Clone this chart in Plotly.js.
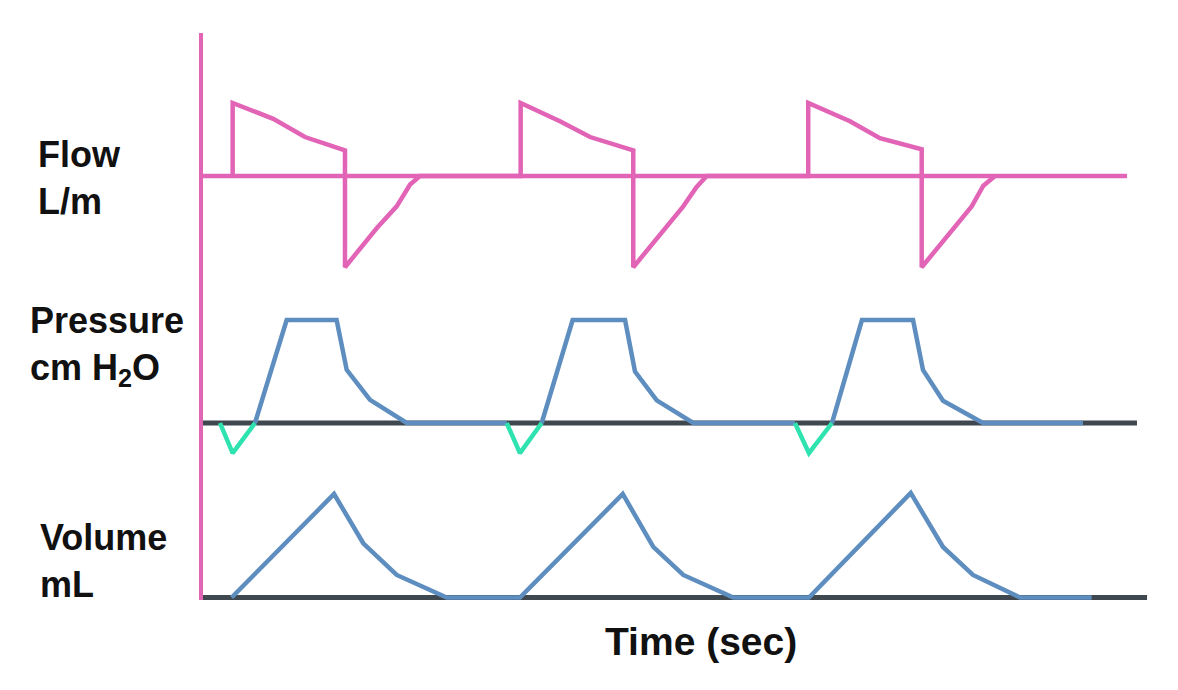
<!DOCTYPE html>
<html>
<head>
<meta charset="utf-8">
<script src="https://cdn.plot.ly/plotly-3.0.1.min.js"></script>
<style>html,body{margin:0;padding:0;background:#fff;}#chart{width:1178px;height:690px;}</style>
</head>
<body>
<div id="chart"></div>
<script>
// Time axis (sec)
const timeRange = [0, 6.632];

// Baselines (start/end times)
const flowBaselineTime = [0, 6.417];
const flowBaselineValue = [0, 0];
const pressureBaselineTime = [0, 6.486];
const pressureBaselineValue = [0, 0];
const volumeBaselineTime = [0, 6.556];
const volumeBaselineValue = [0, 0];

// Flow (L/m)
const flowTime = [0.206, 0.206, 0.488, 0.708, 0.986, 0.986, 1.206, 1.345, 1.438, 1.507,
                  2.206, 2.206, 2.479, 2.688, 2.988, 2.988, 3.335, 3.428, 3.498,
                  4.203, 4.203, 4.493, 4.701, 4.991, 4.991, 5.338, 5.419, 5.500];
const flowValue = [0, 60, 47, 32, 21, -75, -43, -25, -7, 0,
                   0, 60, 45, 32, 21, -75, -25, -9, 0,
                   0, 60, 45, 31, 22, -75, -25, -8, 0];

// Pressure (cm H2O)
const pressureTime = [0.361, 0.581, 0.928, 0.998, 1.160, 1.415, 2.109, null,
                      2.352, 2.567, 2.931, 3.000, 3.151, 3.405, 4.111, null,
                      4.368, 4.576, 4.931, 5.000, 5.139, 5.417, 6.111];
const pressureValue = [0, 25, 25, 12.9, 5.6, 0, 0, null,
                       0, 25, 25, 12.5, 5.5, 0, 0, null,
                       0, 25, 25, 12.9, 5.4, 0, 0];

// Patient trigger effort (cm H2O)
const triggerTime = [0.118, 0.206, 0.361, null, 2.109, 2.201, 2.352, null, 4.111, 4.208, 4.368];
const triggerValue = [0, -7.3, 0, null, 0, -7.3, 0, null, 0, -7.3, 0];

// Volume (mL)
const volumeTime = [0.199, 0.910, 1.113, 1.345, 1.692, 2.201,
                    2.915, 3.127, 3.335, 3.683, 4.208,
                    4.915, 5.139, 5.347, 5.674, 6.171];
const volumeValue = [0, 500, 262, 109, 0, 0,
                     500, 245, 109, 0, 0,
                     505, 244, 109, 0, 0];

const pink = '#e264b6';
const blue = '#5e8ebf';
const dark = '#3f474f';
const green = '#2fe3b0';

const traces = [
  {x: flowBaselineTime, y: flowBaselineValue, yaxis: 'y', mode: 'lines', line: {color: pink, width: 4.5}, name: 'Flow baseline'},
  {x: pressureBaselineTime, y: pressureBaselineValue, yaxis: 'y2', mode: 'lines', line: {color: dark, width: 5}, name: 'Pressure baseline'},
  {x: volumeBaselineTime, y: volumeBaselineValue, yaxis: 'y3', mode: 'lines', line: {color: dark, width: 5}, name: 'Volume baseline'},
  {x: flowTime, y: flowValue, yaxis: 'y', mode: 'lines', line: {color: pink, width: 4.5}, name: 'Flow'},
  {x: pressureTime, y: pressureValue, yaxis: 'y2', mode: 'lines', connectgaps: false, line: {color: blue, width: 4.5}, name: 'Pressure'},
  {x: triggerTime, y: triggerValue, yaxis: 'y2', mode: 'lines', connectgaps: false, line: {color: green, width: 4.5}, name: 'Trigger'},
  {x: volumeTime, y: volumeValue, yaxis: 'y3', mode: 'lines', line: {color: blue, width: 4.5}, name: 'Volume'}
];

const labelFont = {family: '"Liberation Sans", Arial, sans-serif', size: 36, color: '#111111'};

const layout = {
  width: 1178, height: 690,
  margin: {l: 203, r: 20, t: 33, b: 90},
  paper_bgcolor: '#ffffff', plot_bgcolor: '#ffffff',
  showlegend: false,
  xaxis: {range: timeRange, showgrid: false, zeroline: false, showticklabels: false, ticks: '', showline: false, fixedrange: true},
  yaxis: {range: [-348.5, 117.5], showgrid: false, zeroline: false, showticklabels: false, ticks: '',
          showline: true, linecolor: pink, linewidth: 4, fixedrange: true},
  yaxis2: {range: [-42.96, 94.66], overlaying: 'y', showgrid: false, zeroline: false, showticklabels: false, ticks: '', showline: false, fixedrange: true},
  yaxis3: {range: [-12.1, 2727], overlaying: 'y', showgrid: false, zeroline: false, showticklabels: false, ticks: '', showline: false, fixedrange: true},
  annotations: [
    {text: '<b>Flow<br>L/m</b>', xref: 'paper', yref: 'paper', x: -0.1748, y: 0.745, xanchor: 'left', yanchor: 'middle', align: 'left', showarrow: false, font: labelFont},
    {text: '<b>Pressure<br>cm H<sub>2</sub>O</b>', xref: 'paper', yref: 'paper', x: -0.1832, y: 0.448, xanchor: 'left', yanchor: 'middle', align: 'left', showarrow: false, font: labelFont},
    {text: '<b>Volume<br>mL</b>', xref: 'paper', yref: 'paper', x: -0.1727, y: 0.0695, xanchor: 'left', yanchor: 'middle', align: 'left', showarrow: false, font: labelFont},
    {text: '<b>Time (sec)</b>', xref: 'paper', yref: 'paper', x: 0.5215, y: -0.0737, xanchor: 'center', yanchor: 'middle', showarrow: false,
     font: {family: '"Liberation Sans", Arial, sans-serif', size: 39, color: '#111111'}}
  ]
};

Plotly.newPlot('chart', traces, layout, {displayModeBar: false, staticPlot: true});
</script>
</body>
</html>
